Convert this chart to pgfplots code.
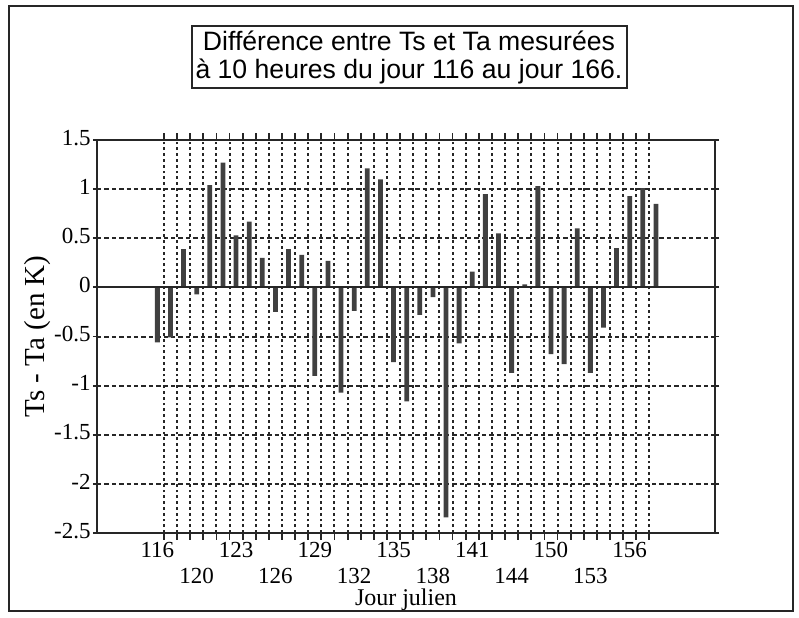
\documentclass[border=0pt]{standalone}
\usepackage{fontspec}
\setmainfont{Liberation Serif}
\newfontfamily\helv{Liberation Sans}
\usepackage{pgfplots}
\pgfplotsset{compat=1.18}
\begin{document}
\begin{tikzpicture}
\path (0pt,0pt) rectangle (399.5pt,307.5pt);
\begin{axis}[
  at={(48.5pt,41pt)}, anchor=south west,
  scale only axis, width=309pt, height=196.5pt,
  xmin=-4.6, xmax=42.5, ymin=-2.5, ymax=1.5,
  axis line style={line width=1.2pt, black!85},
  ytick={-2.5,-2,-1.5,-1,-0.5,0,0.5,1,1.5},
  yticklabels={-2.5,-2,-1.5,-1,-0.5,0,0.5,1,1.5},
  xtick={0,6,12,18,24,30,36},
  xticklabels={116,123,129,135,141,150,156},
  extra x ticks={3,9,15,21,27,33},
  extra x tick labels={120,126,132,138,144,153},
  extra x tick style={major tick length=0pt, grid=none, tick label style={yshift=-17pt}},
  minor xtick={0.5,1.5,...,37.5},
  major x tick style={draw=none},
  tick align=center, major tick length=4pt, minor tick length=3.5pt,
  tick style={line width=0.9pt, black!85},
  ymajorgrids, xminorgrids,
  major grid style={dash pattern=on 2.2pt off 1.5pt, line width=1pt, black!85},
  minor grid style={dash pattern=on 1.4pt off 1.5pt, line width=1pt, black!85},
  typeset ticklabels with strut,
  ticklabel style={font=\fontsize{11.5}{13}\selectfont},
  xticklabel style={yshift=4.5pt},
  yticklabel style={inner xsep=1pt},
  xlabel={Jour julien},
  ylabel={Ts - Ta (en K)},
  every axis x label/.style={at={(rel axis cs:0.5,0)}, yshift=-33.5pt, anchor=center, font=\fontsize{12}{14}\selectfont},
  every axis y label/.style={at={(rel axis cs:0,0.5)}, xshift=-29.5pt, rotate=90, anchor=center, font=\fontsize{14.5}{16}\selectfont},
  ybar, bar width=2.4pt,
  clip=false,
]
\addplot[fill=black!75, draw=none] coordinates {
(0,-0.56) (1,-0.51) (2,0.39) (3,-0.07) (4,1.04) (5,1.27) (6,0.53) (7,0.67)
(8,0.30) (9,-0.25) (10,0.39) (11,0.33) (12,-0.90) (13,0.27) (14,-1.07) (15,-0.24)
(16,1.21) (17,1.10) (18,-0.76) (19,-1.16) (20,-0.28) (21,-0.10) (22,-2.34) (23,-0.57)
(24,0.16) (25,0.95) (26,0.55) (27,-0.87) (28,0.03) (29,1.03) (30,-0.68) (31,-0.78)
(32,0.60) (33,-0.87) (34,-0.41) (35,0.40) (36,0.93) (37,1.01) (38,0.85)
};
\draw[line width=1pt, black!85] (axis cs:-4.6,0) -- (axis cs:42.5,0);
\end{axis}
\draw[line width=1pt, black!85] (4.5pt,2pt) rectangle (396.5pt,304.5pt);
\node[draw, line width=1pt, black!85, text=black, minimum width=217.5pt, minimum height=31pt, inner sep=1pt, align=center, font=\helv\fontsize{13.3}{14}\selectfont] at (204.5pt,279pt) {Différence entre Ts et Ta mesurées\\à 10 heures du jour 116 au jour 166.};
\end{tikzpicture}
\end{document}
